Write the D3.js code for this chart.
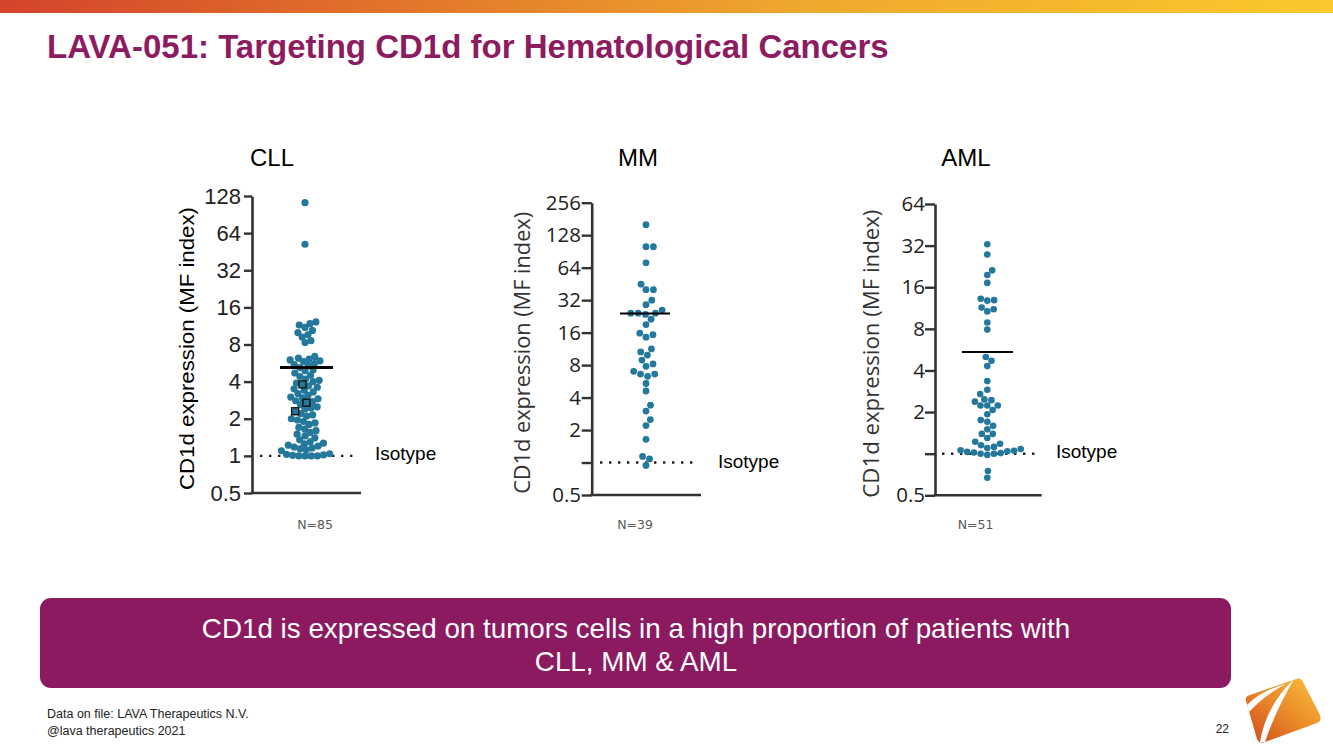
<!DOCTYPE html>
<html><head><meta charset="utf-8">
<script src="https://cdn.jsdelivr.net/npm/d3@7"></script>
<style>body{margin:0;background:#fff;} svg{display:block}</style>
</head><body>
<svg id="c" width="1333" height="750"></svg>
<script>
// ---------------- DATA ----------------
const panelNames = ["CLL", "MM", "AML"];
const panelN = ["N=85", "N=39", "N=51"];
const meanValues = [5.2, 24, 5.43];
const isotypeValue = 1;
const axisTitle = "CD1d expression (MF index)";

const cllValues = [113, 52,
  12.2, 11.8, 11.5, 11.0, 10.4, 10.0, 9.6, 9.2, 8.6, 8.3,
  6.4, 6.2, 6.1, 6.0, 5.9, 5.8, 5.6, 5.5, 5.4, 5.2,
  5.0, 4.9, 4.7, 4.5, 4.4, 4.2, 4.1, 4.0, 3.9, 3.8,
  3.7, 3.6, 3.5, 3.4, 3.3, 3.2, 3.1, 3.0, 2.95, 2.9,
  2.8, 2.75, 2.7, 2.6, 2.5, 2.45, 2.4, 2.3, 2.2, 2.15,
  2.1, 2.0, 1.95, 1.9, 1.85, 1.8, 1.7, 1.65, 1.6, 1.55,
  1.5, 1.45, 1.4, 1.35, 1.3, 1.27, 1.25, 1.22,
  1.2, 1.18, 1.16, 1.14, 1.12, 1.1,
  1.04, 1.03, 1.02, 1.01, 1.0, 1.0, 1.0, 1.0];
const cllHighlight = [3.8, 2.7, 2.3];

const mmValues = [160, 100, 100, 71, 45, 40, 40, 32, 29,
  25.9, 24.2, 24.2, 24.2, 23.6, 21.3, 19.0,
  15.8, 15.3, 14.5, 11.3, 10.6, 9.9, 8.9,
  8.2, 7.8, 7.0, 6.6, 6.6, 6.3, 5.4, 4.6,
  3.4, 3.0, 2.5, 2.2, 1.64, 1.14, 1.08, 0.94];

const amlValues = [32.7, 27.6, 21.2, 19.6, 17.2, 13.2, 12.9, 12.8, 11.4, 11.1, 10.7, 8.9, 7.9,
  5.0, 4.7, 4.3, 3.35, 2.9, 2.7, 2.47, 2.44, 2.38, 2.23, 2.23, 2.23, 2.07,
  1.93, 1.75, 1.7, 1.59, 1.5, 1.39, 1.39, 1.30,
  1.22, 1.18, 1.15, 1.12, 1.1, 1.08, 1.06, 1.05, 1.04, 1.03, 1.02, 1.01, 1.0, 1.0, 0.98,
  0.75, 0.67];

const cllTicks = [0.5, 1, 2, 4, 8, 16, 32, 64, 128];
const cllTickLabels = ["0.5", "1", "2", "4", "8", "16", "32", "64", "128"];
const mmTicks = [0.5, 1, 2, 4, 8, 16, 32, 64, 128, 256];
const mmTickLabels = ["0.5", "", "2", "4", "8", "16", "32", "64", "128", "256"];
const amlTicks = [0.5, 1, 2, 4, 8, 16, 32, 64];
const amlTickLabels = ["0.5", "", "2", "4", "8", "16", "32", "64"];

const calloutLines = ["CD1d is expressed on tumors cells in a high proportion of patients with", "CLL, MM & AML"];
const footerLines = ["Data on file: LAVA Therapeutics N.V.", "@lava therapeutics 2021"];
const pageNumber = "22";
const slideTitle = "LAVA-051: Targeting CD1d for Hematological Cancers";

// ---------------- LAYOUT ----------------
const svg = d3.select("#c");
const defs = svg.append("defs");
const DOT = "#23789b";

const bar = defs.append("linearGradient").attr("id", "bar");
[["0%", "#d4432b"], ["30%", "#e2752b"], ["60%", "#efa82e"], ["100%", "#fbc82d"]].forEach(s =>
  bar.append("stop").attr("offset", s[0]).attr("stop-color", s[1]));
svg.append("rect").attr("x", 0).attr("y", 0).attr("width", 1333).attr("height", 13).attr("fill", "url(#bar)");

svg.append("text").attr("x", 47).attr("y", 58).text(slideTitle)
  .attr("font-family", "Liberation Sans, Arial, sans-serif").attr("font-weight", "bold")
  .attr("font-size", 33).attr("fill", "#8c1b60");

const panels = [
  { values: cllValues, ticks: cllTicks, labels: cllTickLabels, top: 128, yTop: 196, yBot: 493,
    ax: 252, xEnd: 361, cx: 305, r: 3.6, dd: 6.2, meanX: [280, 333], meanW: 3,
    dotX: [260, 358], isoX: 375, isoY: 460, tickLen: 8, labX: 241, labFont: "Liberation Sans, Arial, sans-serif", labSize: 22,
    titleX: 194, titleLen: 283, titleFont: "Liberation Sans, Arial, sans-serif", titleSize: 21, titleColor: "#000",
    nameX: 272, nX: 315 },
  { values: mmValues, ticks: mmTicks, labels: mmTickLabels, top: 256, yTop: 202.7, yBot: 495,
    ax: 591.7, xEnd: 701, cx: 646, r: 3.4, dd: 7.4, meanX: [620, 670], meanW: 2,
    dotX: [600, 693], isoX: 718, isoY: 468, tickLen: 10, labX: 581, labFont: "Open Sans, sans-serif", labSize: 20.5,
    titleX: 530, titleLen: 282, titleFont: "Open Sans, sans-serif", titleSize: 22, titleColor: "#333",
    nameX: 638, nX: 635 },
  { values: amlValues, ticks: amlTicks, labels: amlTickLabels, top: 64, yTop: 204, yBot: 495.3,
    ax: 935, xEnd: 1041.7, cx: 987.3, r: 3.3, dd: 6.8, meanX: [962, 1013], meanW: 2,
    dotX: [942, 1040], isoX: 1056, isoY: 458, tickLen: 10, labX: 925, labFont: "Open Sans, sans-serif", labSize: 20.5,
    titleX: 879, titleLen: 288, titleFont: "Open Sans, sans-serif", titleSize: 22, titleColor: "#333",
    nameX: 966, nX: 975.5 }
];

function dodge(values, y, d) {
  const pts = values.map((v, i) => ({ v, y: y(v), x: 0, i }));
  const order = pts.slice().sort((a, b) => b.y - a.y);
  const placed = [];
  for (const p of order) {
    const cands = [0];
    for (const q of placed) {
      const dy = Math.abs(q.y - p.y);
      if (dy < d) {
        const dx = Math.sqrt(d * d - dy * dy);
        cands.push(q.x + dx + 1e-6, q.x - dx - 1e-6);
      }
    }
    cands.sort((a, b) => Math.abs(a) - Math.abs(b));
    for (const c of cands) {
      if (placed.every(q => (q.x - c) ** 2 + (q.y - p.y) ** 2 >= d * d - 1e-3)) { p.x = c; break; }
    }
    placed.push(p);
  }
  return pts;
}

panels.forEach((p, k) => {
  const g = svg.append("g");
  const y = d3.scaleLog().base(2).domain([0.5, p.top]).range([p.yBot, p.yTop]);
  const axis = d3.axisLeft(y).tickValues(p.ticks).tickFormat((d, i) => p.labels[i])
    .tickSize(p.tickLen).tickSizeOuter(0).tickPadding(p.ax - p.tickLen - p.labX);
  const ag = g.append("g").attr("transform", `translate(${p.ax},0)`).call(axis);
  ag.select(".domain").attr("stroke", "#333").attr("stroke-width", 2.6);
  ag.selectAll(".tick line").attr("stroke", "#333").attr("stroke-width", 2.4);
  ag.selectAll(".tick text").attr("font-family", p.labFont).attr("font-size", p.labSize).attr("fill", "#222");
  // x baseline
  g.append("line").attr("x1", p.ax - 1.3).attr("x2", p.xEnd).attr("y1", y(0.5)).attr("y2", y(0.5))
    .attr("stroke", "#333").attr("stroke-width", 2.6);
  // isotype dotted
  g.append("line").attr("x1", p.dotX[0]).attr("x2", p.dotX[1]).attr("y1", y(isotypeValue)).attr("y2", y(isotypeValue))
    .attr("stroke", "#222").attr("stroke-width", 2.4).attr("stroke-dasharray", "2.4,6.6");
  g.append("text").attr("x", p.isoX).attr("y", p.isoY).text("Isotype")
    .attr("font-family", "Liberation Sans, Arial, sans-serif").attr("font-size", 19).attr("fill", "#000");
  // dots
  const pts = dodge(p.values, y, p.dd);
  g.selectAll("circle.dot").data(pts).join("circle").attr("class", "dot")
    .attr("cx", d => p.cx + d.x).attr("cy", d => d.y).attr("r", p.r).attr("fill", DOT);
  if (k === 0) {
    cllHighlight.forEach(h => {
      const best = pts.reduce((a, b) => Math.abs(b.v - h) < Math.abs(a.v - h) ? b : a);
      g.append("rect").attr("x", p.cx + best.x - 3.5).attr("y", best.y - 3.5).attr("width", 7).attr("height", 7)
        .attr("fill", "none").attr("stroke", "#111").attr("stroke-width", 1.4);
    });
  }
  // mean line
  g.append("line").attr("x1", p.meanX[0]).attr("x2", p.meanX[1]).attr("y1", y(meanValues[k])).attr("y2", y(meanValues[k]))
    .attr("stroke", "#000").attr("stroke-width", p.meanW);
  // axis title
  const cy = (p.yTop + p.yBot) / 2 + 4;
  g.append("text").attr("transform", `translate(${p.titleX},${cy}) rotate(-90)`).attr("text-anchor", "middle")
    .attr("font-family", p.titleFont).attr("font-size", p.titleSize).attr("fill", p.titleColor)
    .attr("textLength", p.titleLen).attr("lengthAdjust", "spacingAndGlyphs").text(axisTitle);
  // panel name
  g.append("text").attr("x", p.nameX).attr("y", 166).attr("text-anchor", "middle").text(panelNames[k])
    .attr("font-family", "Liberation Sans, Arial, sans-serif").attr("font-size", 24).attr("fill", "#000");
  // N label
  g.append("text").attr("x", p.nX).attr("y", 528.5).attr("text-anchor", "middle").text(panelN[k])
    .attr("font-family", "DejaVu Sans, sans-serif").attr("font-size", 12.5).attr("fill", "#595959");
});

// callout box
svg.append("rect").attr("x", 40).attr("y", 598).attr("width", 1191).attr("height", 90).attr("rx", 11)
  .attr("fill", "#8b1a60");
calloutLines.forEach((t, i) => svg.append("text").attr("x", 636).attr("y", 638 + i * 33).attr("text-anchor", "middle")
  .attr("font-family", "Liberation Sans, Arial, sans-serif").attr("font-size", 27.8).attr("fill", "#fff").text(t));

// footer
footerLines.forEach((t, i) => svg.append("text").attr("x", 47).attr("y", 718 + i * 16.5)
  .attr("font-family", "Liberation Sans, Arial, sans-serif").attr("font-size", 12.5).attr("fill", "#222").text(t));
svg.append("text").attr("x", 1229).attr("y", 733).attr("text-anchor", "end").text(pageNumber)
  .attr("font-family", "Liberation Sans, Arial, sans-serif").attr("font-size", 12).attr("fill", "#222");

// logo
const lg = defs.append("linearGradient").attr("id", "logo").attr("x1", 0).attr("y1", 1).attr("x2", 1).attr("y2", 0);
[["0%", "#cf4a1e"], ["55%", "#ec8f2a"], ["100%", "#f8c23c"]].forEach(s =>
  lg.append("stop").attr("offset", s[0]).attr("stop-color", s[1]));
svg.append("path").attr("d", "M1250,695 L1296,679 Q1301,677 1303,682 L1320,715 Q1322,721 1317,723 L1265,742 Q1259,744 1257,739 L1246,701 Q1245,696 1250,695 Z")
  .attr("fill", "url(#logo)");
svg.append("path").attr("d", "M1247,705 Q1262,690 1286,684 Q1266,694 1249,712 Z").attr("fill", "#fff");
svg.append("path").attr("d", "M1260,742 Q1266,706 1294,679 Q1275,712 1265,742 Z").attr("fill", "#fff");
</script>
</body></html>
